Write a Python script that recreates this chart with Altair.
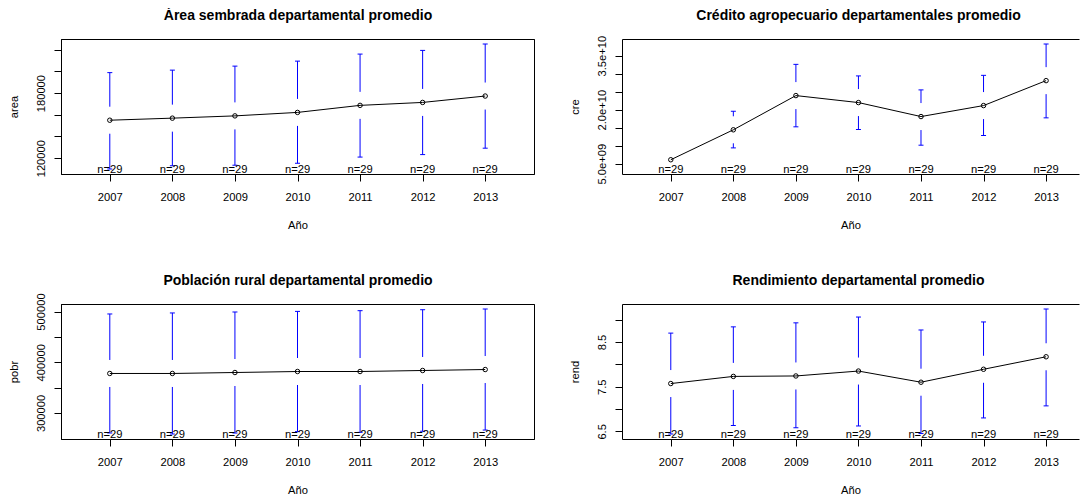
import altair as alt
import pandas as pd

# ---------------- data ----------------
years = [2007, 2008, 2009, 2010, 2011, 2012, 2013]
counts = [29, 29, 29, 29, 29, 29, 29]

area_mean = [155000, 156900, 159000, 162200, 168700, 171400, 177300]
area_upper = [198900, 201200, 204900, 209500, 216000, 219400, 225300]
area_lower = [110000, 113000, 113500, 115300, 121000, 123300, 129200]

cre_mean = [6.11e9, 1.442e10, 2.392e10, 2.198e10, 1.81e10, 2.115e10, 2.807e10]
cre_upper = [8.68e9, 1.957e10, 3.259e10, 2.938e10, 2.55e10, 2.954e10, 3.824e10]
cre_lower = [3.54e9, 9.4e9, 1.525e10, 1.45e10, 1.015e10, 1.284e10, 1.774e10]

pobr_mean = [377800, 377800, 379700, 381700, 381700, 383700, 385600]
pobr_upper = [495200, 497200, 499100, 500300, 501700, 503600, 505000]
pobr_lower = [260400, 258400, 260300, 263100, 261700, 263800, 266200]

rend_mean = [7.57, 7.73, 7.74, 7.85, 7.60, 7.89, 8.17]
rend_upper = [8.70, 8.84, 8.93, 9.06, 8.77, 8.95, 9.24]
rend_lower = [6.44, 6.63, 6.58, 6.62, 6.45, 6.80, 7.07]

area_ticks = [120000, 140000, 160000, 180000, 200000, 220000]
area_tick_labels = ["120000", "", "", "180000", "", ""]
cre_ticks = [5e9, 1e10, 1.5e10, 2e10, 2.5e10, 3e10, 3.5e10]
cre_tick_labels = ["5.0e+09", "", "", "2.0e+10", "", "", "3.5e+10"]
pobr_ticks = [300000, 350000, 400000, 450000, 500000]
pobr_tick_labels = ["300000", "", "400000", "", "500000"]
rend_ticks = [6.5, 7, 7.5, 8, 8.5, 9]
rend_tick_labels = ["6.5", "", "7.5", "", "8.5", ""]

titles = [
    "Área sembrada departamental promedio",
    "Crédito agropecuario departamentales promedio",
    "Población rural departamental promedio",
    "Rendimiento departamental promedio",
]
ytitles = ["area", "cre", "pobr", "rend"]
xtitle = "Año"

# ---------------- styling ----------------
FONT = "Liberation Sans"
BLUE = "#0000ff"
H = 135
W_LEFT = 473
W_RIGHT = 457          # right-hand panels are cut at the window edge
GAP_PX = 13.5
X0 = 2006.22
X1_FULL = 2013.78
X1_CROP = 2013.526
FS = 11.2


def label_expr(ticks, labels):
    parts = [f"datum.value == {v} ? '{lab}'" for v, lab in zip(ticks, labels) if lab]
    return " : ".join(parts) + " : ''"


def panel(title, ytitle, mean, lower, upper, ticks, tick_labels, width, xmax, stroke, title_x):
    lo, hi = min(lower), max(upper)
    r = hi - lo
    d0, d1 = lo - 0.04 * r, hi + 0.04 * r
    gap = GAP_PX * (d1 - d0) / H

    pts = pd.DataFrame({"year": years, "m": mean, "n": [f"n={c}" for c in counts]})
    rows = []
    for yr, m, l, u in zip(years, mean, lower, upper):
        a = min(m + gap, u)
        if u - a > 0:
            rows.append({"year": yr, "y0": a, "y1": u})
        b = max(m - gap, l)
        if b - l > 0:
            rows.append({"year": yr, "y0": b, "y1": l})
    segs = pd.DataFrame(rows)

    xs = alt.Scale(domain=[X0, xmax], nice=False, zero=False)
    ys = alt.Scale(domain=[d0, d1], nice=False, zero=False)

    bottom_axis = alt.Axis(
        title=xtitle, values=years, format="d", labelAngle=0, tickSize=7,
        labelPadding=10.5, titlePadding=17, labelFlush=False, labelOverlap=False,
        domain=True,
    )
    top_kwargs = dict(
        orient="top", title=title, labels=False, ticks=False, domain=True,
        titleFontSize=14, titleFontWeight="bold", titlePadding=19.1,
        titleBaseline="alphabetic", minExtent=0,
    )
    if title_x:
        top_kwargs["titleX"] = title_x
    top_axis = alt.Axis(**top_kwargs)
    y_axis = alt.Axis(
        title=ytitle, values=ticks, labelExpr=label_expr(ticks, tick_labels),
        labelAngle=270, labelAlign="center", labelBaseline="alphabetic",
        labelPadding=9.5, tickSize=7, titlePadding=15.6, labelFlush=False,
        labelOverlap=False, domain=True,
    )

    def yenc(field):
        return alt.Y(field, scale=ys, axis=y_axis, title=ytitle)

    bars = alt.Chart(segs).mark_rule(color=BLUE, strokeWidth=1).encode(
        x=alt.X("year:Q", scale=xs, axis=None),
        y=yenc("y0:Q"),
        y2="y1:Q",
    )
    caps = alt.Chart(segs).mark_tick(
        orient="horizontal", color=BLUE, size=5, thickness=1, opacity=1
    ).encode(
        x=alt.X("year:Q", scale=xs, axis=None),
        y=yenc("y1:Q"),
    )
    line = alt.Chart(pts).mark_line(color="black", strokeWidth=1).encode(
        x=alt.X("year:Q", scale=xs, axis=bottom_axis),
        y=yenc("m:Q"),
    )
    points = alt.Chart(pts).mark_point(
        shape="circle", filled=False, size=20, color="black", strokeWidth=1, opacity=1
    ).encode(
        x=alt.X("year:Q", scale=xs, axis=top_axis),
        y=yenc("m:Q"),
    )
    ntext = alt.Chart(pts).mark_text(
        font=FONT, fontSize=FS, color="black", baseline="alphabetic", dy=-1.3
    ).encode(
        x=alt.X("year:Q", scale=xs, axis=None),
        y=alt.value(H),
        text="n:N",
    )
    return (
        alt.layer(bars, caps, line, points, ntext)
        .resolve_axis(x="independent")
        .properties(width=width, height=H, view=alt.ViewBackground(stroke=stroke))
    )


p1 = panel(titles[0], ytitles[0], area_mean, area_lower, area_upper,
           area_ticks, area_tick_labels, W_LEFT, X1_FULL, "black", 0)
p2 = panel(titles[1], ytitles[1], cre_mean, cre_lower, cre_upper,
           cre_ticks, cre_tick_labels, W_RIGHT, X1_CROP, "transparent", 236)
p3 = panel(titles[2], ytitles[2], pobr_mean, pobr_lower, pobr_upper,
           pobr_ticks, pobr_tick_labels, W_LEFT, X1_FULL, "black", 0)
p4 = panel(titles[3], ytitles[3], rend_mean, rend_lower, rend_upper,
           rend_ticks, rend_tick_labels, W_RIGHT, X1_CROP, "transparent", 236)

chart = (
    alt.concat(p1, p2, p3, p4, columns=2,
               spacing=alt.RowColnumber(row=130, column=88), bounds="flush")
    .properties(padding={"left": 0, "top": 0, "right": 0, "bottom": 0}, background="white")
    .configure_axis(
        labelFont=FONT, titleFont=FONT, labelColor="black", titleColor="black",
        tickColor="black", domainColor="black", labelFontSize=FS, titleFontSize=FS,
        titleFontWeight="normal", grid=False, tickWidth=1, domainWidth=1,
    )
    .configure_view(stroke="black", strokeWidth=1)
)

chart.save("out.html", embed_options={"renderer": "svg", "actions": False})
